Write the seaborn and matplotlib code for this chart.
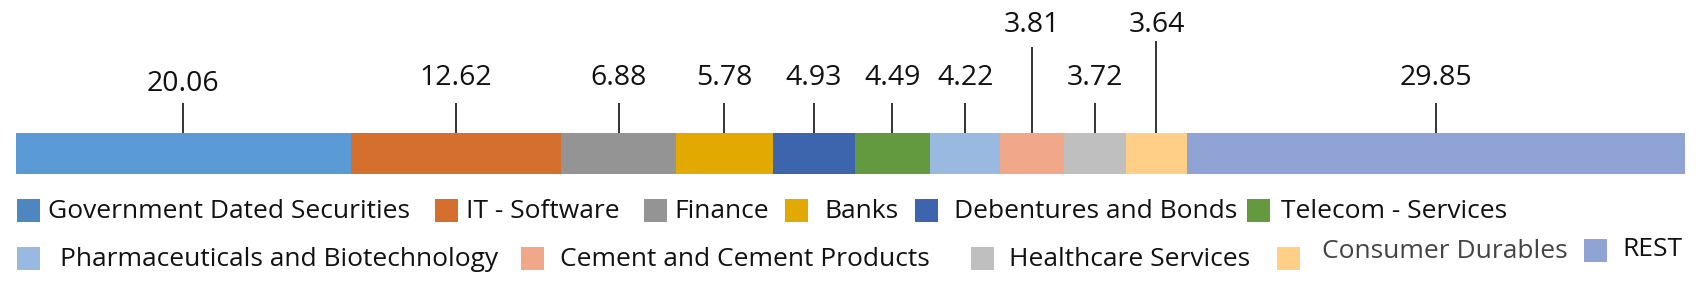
import matplotlib
matplotlib.use("Agg")
import matplotlib.pyplot as plt
import matplotlib.transforms as mtransforms
from matplotlib.patches import Rectangle
import seaborn as sns
import numpy as np

# ---- data ----
categories = ["Government Dated Securities", "IT - Software", "Finance", "Banks",
              "Debentures and Bonds", "Telecom - Services",
              "Pharmaceuticals and Biotechnology", "Cement and Cement Products",
              "Healthcare Services", "Consumer Durables", "REST"]
values = [20.06, 12.62, 6.88, 5.78, 4.93, 4.49, 4.22, 3.81, 3.72, 3.64, 29.85]
value_labels = ["20.06", "12.62", "6.88", "5.78", "4.93", "4.49", "4.22", "3.81",
                "3.72", "3.64", "29.85"]

# ---- style ----
colors = ["#5B9BD5", "#D46F2E", "#949494", "#E2AA00", "#3C65AE", "#639A3F",
          "#99B9E0", "#F1A78A", "#BFBFBF", "#FFCF87", "#8FA3D4"]
legend_colors = ["#4E87BF"] + colors[1:]

W, H = 1703, 283
sns.set_theme(style="white")
plt.rcParams["font.family"] = ["Open Sans", "DejaVu Sans"]

fig = plt.figure(figsize=(W / 100, H / 100), dpi=100)
fig.patch.set_facecolor("white")

bar_left, bar_right = 16, 1685
bar_top, bar_bot = 132.5, 174
ax = fig.add_axes([bar_left / W, 1 - bar_bot / H, (bar_right - bar_left) / W,
                   (bar_bot - bar_top) / H])

lefts = np.concatenate([[0], np.cumsum(values)[:-1]])
for cat, v, l, c in zip(categories, values, lefts, colors):
    sns.barplot(x=[v], y=[""], left=l, color=c, saturation=1, width=1.0,
                orient="h", ax=ax, linewidth=0)
ax.set_xlim(0, sum(values))
ax.set_ylim(0.5, -0.5)
ax.axis("off")

# leader lines and value labels
trans = mtransforms.blended_transform_factory(ax.transData, fig.transFigure)
label_y = [84, 78, 78, 78, 78, 78, 78, 25, 78, 25, 78]
line_top = [103, 103, 103, 103, 103, 103, 103, 47, 103, 41, 103]
for v, l, lab, ly, lt in zip(values, lefts, value_labels, label_y, line_top):
    cx = l + v / 2
    ax.plot([cx, cx], [1 - bar_top / H, 1 - lt / H], transform=trans,
            color="#333333", lw=1.4, clip_on=False, solid_capstyle="butt")
    ax.text(cx, 1 - ly / H, lab, transform=trans, ha="center", va="center",
            fontsize=20.5, color="#111111")

# legend (manually laid out, as in the original)
sq = 23
legend_layout = [  # (square x, text x, square y-center, text y-center)
    (17, 48, 210, 211), (435, 466, 210, 211), (644, 674, 210, 211),
    (785, 824, 210, 211), (915, 954, 210, 211), (1247, 1281, 210, 211),
    (17, 60, 258, 259), (521, 560, 258, 259), (971, 1009, 258, 259),
    (1277, 1322, 258, 251), (1584, 1622, 250, 250),
]
text_colors = ["#111111"] * 9 + ["#444444", "#111111"]
for cat, c, (sx, tx, sy, ty), tc in zip(categories, legend_colors, legend_layout, text_colors):
    fig.patches.append(Rectangle((sx / W, 1 - (sy + sq / 2) / H), sq / W, sq / H,
                                 transform=fig.transFigure, facecolor=c,
                                 edgecolor="none"))
    fig.text(tx / W, 1 - ty / H, cat, ha="left", va="center", fontsize=19,
             color=tc)

fig.savefig("out.png", dpi=100, facecolor="white")
